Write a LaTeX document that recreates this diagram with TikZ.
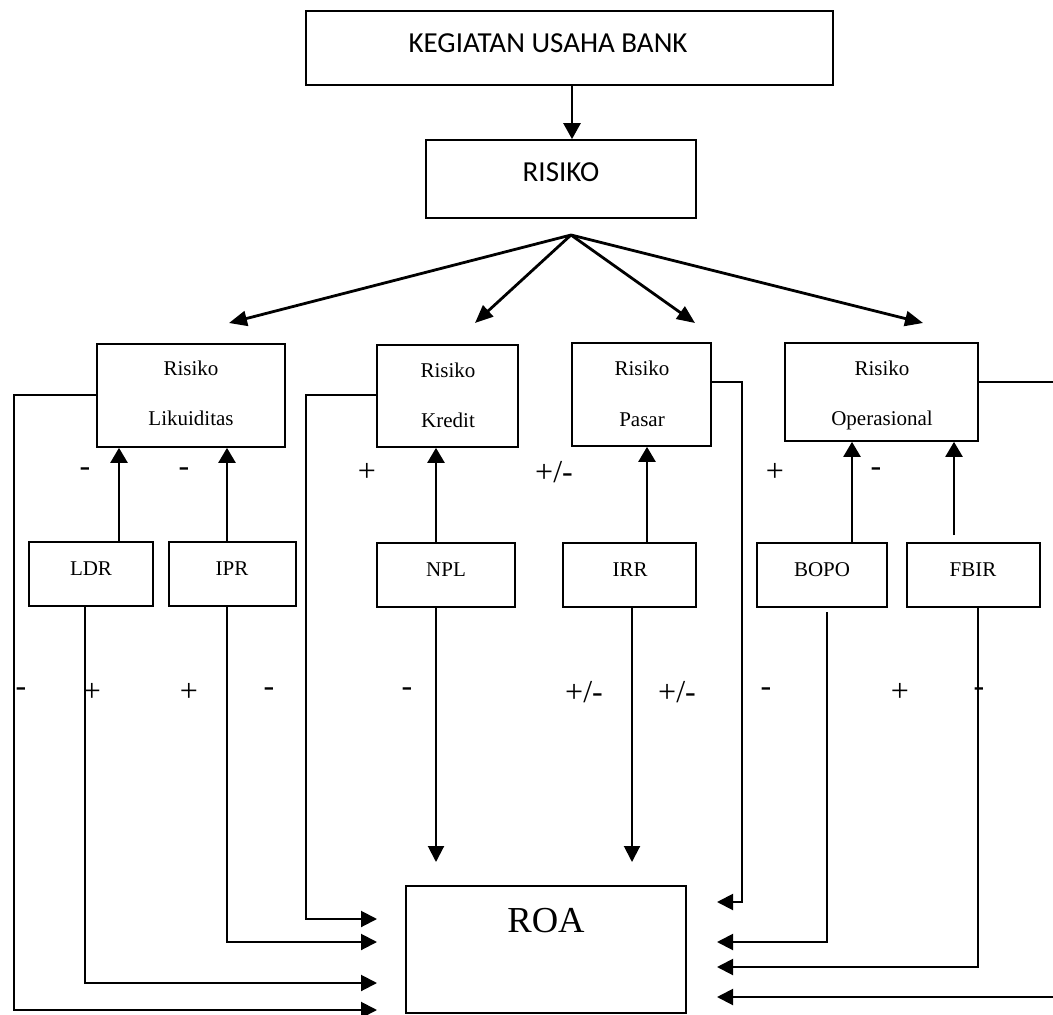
\documentclass[tikz,border=0pt]{standalone}
\usepackage{fontspec}
\setmainfont{Liberation Serif}
\newfontfamily\calfont{Carlito}
\usetikzlibrary{arrows.meta,fit}
\begin{document}
\begin{tikzpicture}[x=0.5pt,y=-0.5pt,
  bx/.style={draw, line width=0.85pt, inner sep=0pt, rectangle},
  txt/.style={font=\fontsize{10.5}{12}\selectfont, inner sep=0pt, text height=7.5pt, text depth=2pt},
  sgn/.style={font=\fontsize{16}{18}\selectfont, inner sep=0pt},
  uarr/.style={line width=1.2pt, -{Triangle[length=7.5pt,width=8.5pt]}},
  fan/.style={line width=1.4pt, -{Triangle[length=9pt,width=7.5pt]}},
  larr/.style={line width=1pt, -{Triangle[length=8pt,width=8pt]}},
  ln/.style={line width=0.8pt}]
\useasboundingbox (0,0) rectangle (1053,1015);
\clip (0,0) rectangle (1053,1015);
\fill[white] (0,0) rectangle (1053,1015);

% top boxes
\node[bx, line width=1pt, fit={(306,11) (833,85)}] (keg) {};
\node[font=\calfont\fontsize{14.5}{16}\selectfont, inner sep=0pt] (kegt) at (548,43) {KEGIATAN USAHA BANK};
\node[bx, fit={(426,140) (696,218)}] (ris) {};
\node[font=\calfont\fontsize{14.5}{16}\selectfont, inner sep=0pt] (rist) at (561,172) {RISIKO};
\coordinate (kx) at (572,0);
\draw[line width=1.3pt, -{Triangle[length=8pt,width=8.5pt]}] (keg.south -| kx) -- (ris.north -| kx);

% fan
\coordinate (apex) at (571,235);
\coordinate (T1) at (229,323);
\coordinate (T2) at (475,323);
\coordinate (T3) at (695,323);
\coordinate (T4) at (923,323);
\draw[fan] (apex) -- (T1);
\draw[fan] (apex) -- (T2);
\draw[fan] (apex) -- (T3);
\draw[fan] (apex) -- (T4);

% risk boxes
\node[bx, fit={(97,344) (285,447)}] (liq) {};
\node[txt] (liq1) at (191,370) {Risiko};
\node[txt] (liq2) at (191,420) {Likuiditas};
\node[bx, fit={(377,345) (518,447)}] (kre) {};
\node[txt] (kre1) at (448,372) {Risiko};
\node[txt] (kre2) at (448,422) {Kredit};
\node[bx, fit={(572,343) (711,446)}] (pas) {};
\node[txt] (pas1) at (642,370) {Risiko};
\node[txt] (pas2) at (642,421) {Pasar};
\node[bx, fit={(785,343) (978,441)}] (opr) {};
\node[txt] (opr1) at (882,370) {Risiko};
\node[txt] (opr2) at (882,420) {Operasional};

% ratio boxes
\node[bx, fit={(29,542) (153,606)}] (ldr) {};
\node[txt] (ldrt) at (91,570) {LDR};
\node[bx, fit={(169,542) (296,606)}] (ipr) {};
\node[txt] (iprt) at (232,570) {IPR};
\node[bx, fit={(377,543) (515,607)}] (npl) {};
\node[txt] (nplt) at (446,571) {NPL};
\node[bx, fit={(563,543) (696,607)}] (irr) {};
\node[txt] (irrt) at (630,571) {IRR};
\node[bx, fit={(757,543) (887,607)}] (bop) {};
\node[txt] (bopt) at (822,571) {BOPO};
\node[bx, fit={(907,543) (1040,607)}] (fbi) {};
\node[txt] (fbit) at (973,571) {FBIR};

% ROA
\node[bx, fit={(406,886) (686,1013)}] (roa) {};
\node[font=\fontsize{18.3}{20}\selectfont, inner sep=0pt] (roat) at (546,921) {ROA};

% up arrows
\coordinate (U1) at (119,0);
\coordinate (U2) at (227,0);
\coordinate (U3) at (436,0);
\coordinate (U4) at (647,0);
\coordinate (U5) at (852,0);
\coordinate (U6) at (954,535);
\draw[uarr] (ldr.north -| U1) -- (liq.south -| U1);
\draw[uarr] (ipr.north -| U2) -- (liq.south -| U2);
\draw[uarr] (npl.north -| U3) -- (kre.south -| U3);
\draw[uarr] (irr.north -| U4) -- (pas.south -| U4);
\draw[uarr] (bop.north -| U5) -- (opr.south -| U5);
\draw[uarr] (U6) -- (opr.south -| U6);

% connectors to ROA
\coordinate (yLq) at (0,395);
\coordinate (yPs) at (0,382);
\coordinate (B1) at (14,1010);  \coordinate (L4) at (377,1010);
\coordinate (B2) at (306,919);  \coordinate (L1) at (377,919);
\coordinate (B3) at (227,942);  \coordinate (L2) at (377,942);
\coordinate (B4) at (85,983);   \coordinate (L3) at (377,983);
\coordinate (D1) at (436,862);
\coordinate (D2) at (632,862);
\coordinate (B5) at (742,902);  \coordinate (R1) at (717,902);
\coordinate (B6s) at (827,612); \coordinate (B6) at (827,942); \coordinate (R2) at (717,942);
\coordinate (B7) at (978,967);  \coordinate (R3) at (717,967);
\coordinate (B8) at (1062,997); \coordinate (R4) at (717,997);

\draw[larr] (liq.west |- yLq) -| (B1) -- (L4);
\draw[larr] (kre.west |- yLq) -| (B2) -- (L1);
\draw[larr] (ipr.south -| B3) -- (B3) -- (L2);
\draw[larr] (ldr.south -| B4) -- (B4) -- (L3);
\draw[larr] (npl.south -| D1) -- (D1);
\draw[larr] (irr.south -| D2) -- (D2);
\draw[larr] (pas.east |- yPs) -| (B5) -- (R1);
\draw[larr] (B6s) -- (B6) -- (R2);
\draw[larr] (fbi.south -| B7) -- (B7) -- (R3);
\draw[larr] (opr.east |- yPs) -| (B8) -- (R4);

% signs upper row
\node[sgn] (s1) at (85,472) {-};
\node[sgn] (s2) at (184,472) {-};
\node[sgn] (s3) at (367,472) {+};
\node[sgn] (s4) at (554,472) {+/-};
\node[sgn] (s5) at (775,472) {+};
\node[sgn] (s6) at (876,472) {-};
% signs lower row
\node[sgn] (s7) at (21,692) {-};
\node[sgn] (s8) at (92,692) {+};
\node[sgn] (s9) at (189,692) {+};
\node[sgn] (s10) at (269,692) {-};
\node[sgn] (s11) at (407,692) {-};
\node[sgn] (s12) at (584,692) {+/-};
\node[sgn] (s13) at (677,692) {+/-};
\node[sgn] (s14) at (766,692) {-};
\node[sgn] (s15) at (900,692) {+};
\node[sgn] (s16) at (979,692) {-};
\end{tikzpicture}
\end{document}
